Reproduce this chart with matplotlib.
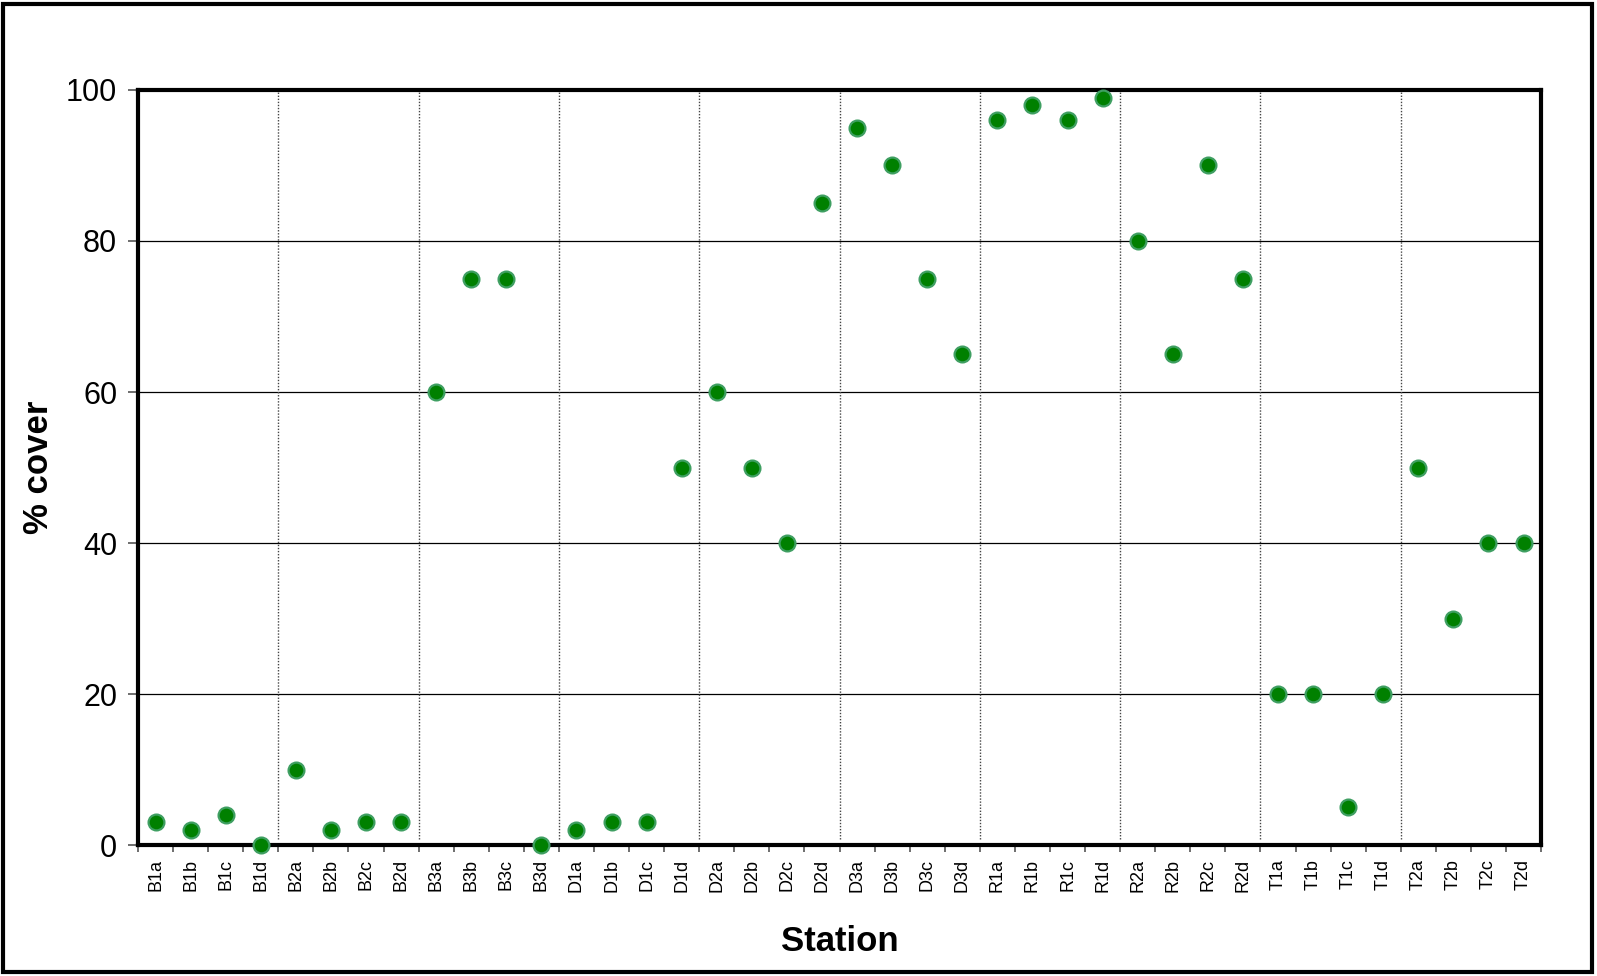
import matplotlib
matplotlib.use("Agg")
import matplotlib.pyplot as plt
from matplotlib.patches import Rectangle

plt.rcParams['font.family'] = ['Liberation Sans', 'DejaVu Sans']

stations = ['B1a', 'B1b', 'B1c', 'B1d', 'B2a', 'B2b', 'B2c', 'B2d',
            'B3a', 'B3b', 'B3c', 'B3d', 'D1a', 'D1b', 'D1c', 'D1d',
            'D2a', 'D2b', 'D2c', 'D2d', 'D3a', 'D3b', 'D3c', 'D3d',
            'R1a', 'R1b', 'R1c', 'R1d', 'R2a', 'R2b', 'R2c', 'R2d',
            'T1a', 'T1b', 'T1c', 'T1d', 'T2a', 'T2b', 'T2c', 'T2d']
cover = [3, 2, 4, 0, 10, 2, 3, 3,
         60, 75, 75, 0, 2, 3, 3, 50,
         60, 50, 40, 85, 95, 90, 75, 65,
         96, 98, 96, 99, 80, 65, 90, 75,
         20, 20, 5, 20, 50, 30, 40, 40]
group_size = 4

fig = plt.figure(figsize=(15.97, 9.76), dpi=100)
ax = fig.add_axes([0.0864, 0.1342, 0.8786, 0.7736])

x = list(range(len(stations)))

# horizontal grid
for yv in [20, 40, 60, 80]:
    ax.axhline(yv, color='black', lw=0.9, zorder=1)

# dotted separators between station groups
for b in range(group_size, len(stations), group_size):
    ax.axvline(b - 0.5, ymin=0.008, ymax=1, color='#444444', lw=1.0,
               ls=(0, (1, 1.2)), zorder=1)

ax.scatter(x, cover, s=130, facecolor='#008000', edgecolor='#3f9f62',
           linewidth=1.6, zorder=3, clip_on=False)

ax.set_xlim(-0.5, len(stations) - 0.5)
ax.set_ylim(0, 100)
ax.set_yticks([0, 20, 40, 60, 80, 100])
ax.set_yticklabels(['0', '20', '40', '60', '80', '100'], fontsize=22)

# category labels centered, tick marks on boundaries
ax.set_xticks([i - 0.5 for i in range(len(stations) + 1)])
ax.set_xticklabels([])
ax.set_xticks(x, minor=True)
ax.set_xticklabels(stations, minor=True, rotation=90, fontsize=13)
ax.tick_params(axis='x', which='minor', length=0, pad=10)
ax.tick_params(axis='x', which='major', length=5, width=1.2, color='#555555')
ax.tick_params(axis='y', length=7, width=1.2, color='#555555', pad=8)

for sp in ax.spines.values():
    sp.set_linewidth(3)

ax.set_xlabel('Station', fontsize=25, fontweight='bold', labelpad=24)
ax.set_ylabel('% cover', fontsize=25, fontweight='bold', labelpad=8)

fig.patches.append(Rectangle((0.002, 0.004), 0.995, 0.992, transform=fig.transFigure,
                             fill=False, edgecolor='black', lw=3))

fig.savefig('out.png', dpi=100)
